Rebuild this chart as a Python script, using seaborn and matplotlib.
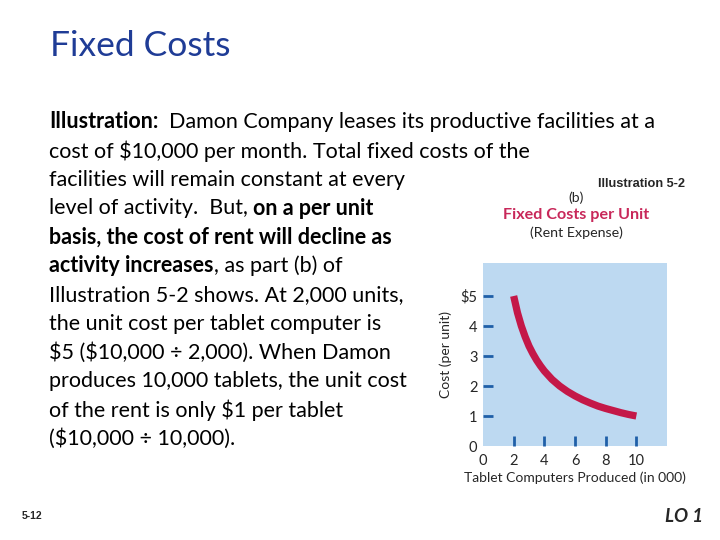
import matplotlib
matplotlib.use("Agg")
import matplotlib.pyplot as plt
import seaborn as sns
import pandas as pd

# ── Data ─────────────────────────────────────────────
units_000 = [2.0, 2.25, 2.5, 2.75, 3.0, 3.25, 3.5, 3.75, 4.0, 4.5, 5.0, 5.5,
             6.0, 6.5, 7.0, 7.5, 8.0, 8.5, 9.0, 9.5, 10.0]
cost_per_unit = [5.0, 4.44, 4.0, 3.64, 3.33, 3.08, 2.86, 2.67, 2.5, 2.22, 2.0,
                 1.82, 1.67, 1.54, 1.43, 1.33, 1.25, 1.18, 1.11, 1.05, 1.0]
x_ticks = [0, 2, 4, 6, 8, 10]
y_ticks = [0, 1, 2, 3, 4, 5]
y_tick_labels = ["0", "1", "2", "3", "4", "$5"]

body_lines = [
    [("Illustration:", True), ("  Damon Company leases its productive facilities at a", False)],
    [("cost of $10,000 per month. Total fixed costs of the", False)],
    [("facilities will remain constant at every", False)],
    [("level of activity.  But, ", False), ("on a per unit", True)],
    [("basis, the cost of rent will decline as", True)],
    [("activity increases", True), (", as part (b) of", False)],
    [("Illustration 5-2 shows. At 2,000 units,", False)],
    [("the unit cost per tablet computer is", False)],
    [("$5 ($10,000 \u00f7 2,000). When Damon", False)],
    [("produces 10,000 tablets, the unit cost", False)],
    [("of the rent is only $1 per tablet", False)],
    [("($10,000 \u00f7 10,000).", False)],
]

df = pd.DataFrame({"units": units_000, "cost": cost_per_unit})

sns.set_style("white")
plt.rcParams["font.family"] = ["Lato", "DejaVu Sans"]
plt.rcParams["text.parse_math"] = False

W, H = 720, 540
fig = plt.figure(figsize=(7.2, 5.4), dpi=100)

# ── Slide text ───────────────────────────────────────
fig.text(50 / W, 1 - 46 / H, "Fixed Costs", fontsize=25.5, color="#1F3C96",
         va="center", ha="left")

renderer = fig.canvas.get_renderer()
y0, dy = 122, 28.8
for i, segs in enumerate(body_lines):
    x = 49
    y = 1 - (y0 + i * dy) / H
    for txt, bold in segs:
        t = fig.text(x / W, y, txt, fontsize=15.5, va="center", ha="left",
                     fontweight="bold" if bold else "normal", color="black")
        x += t.get_window_extent(renderer).width

fig.text(22 / W, 1 - 516 / H, "5-12", fontsize=7.5, fontweight="bold",
         family=["Liberation Sans"], va="center", ha="left")
fig.text(703 / W, 1 - 516 / H, "LO 1", fontsize=13.5, fontweight="bold",
         style="italic", va="center", ha="right")

# ── Illustration header ──────────────────────────────
fig.text(641 / W, 1 - 184 / H, "Illustration 5-2", fontsize=9.2, fontweight="bold",
         family=["Liberation Sans"], va="center", ha="center")
fig.text(576 / W, 1 - 198 / H, "(b)", fontsize=10, va="center", ha="center")
fig.text(576 / W, 1 - 215 / H, "Fixed Costs per Unit", fontsize=11.6,
         fontweight="bold", color="#C8285A", va="center", ha="center")
fig.text(576 / W, 1 - 233 / H, "(Rent Expense)", fontsize=10.3,
         va="center", ha="center")

# ── Chart ────────────────────────────────────────────
ax = fig.add_axes([483 / W, 1 - 446 / H, (667 - 483) / W, (446 - 263) / H])
ax.set_facecolor("#BDD9F1")
sns.lineplot(data=df, x="units", y="cost", ax=ax, color="#C41848",
             linewidth=5.2, solid_capstyle="butt")
ax.set_xlim(0, 12)
ax.set_ylim(0, 6.1)
for s in ax.spines.values():
    s.set_visible(False)

ax.set_xticks(x_ticks)
ax.set_yticks(y_ticks)
ax.set_yticklabels(y_tick_labels)
ax.tick_params(axis="both", direction="in", length=7, width=2,
               color="#1F5FA8", labelsize=10.5, pad=4, bottom=True, left=True)
ax.tick_params(axis="x", pad=6)
ax.xaxis.get_major_ticks()[0].tick1line.set_visible(False)
ax.yaxis.get_major_ticks()[0].tick1line.set_visible(False)

ax.set_xlabel("Tablet Computers Produced (in 000)", fontsize=10, labelpad=2)
ax.set_ylabel("Cost (per unit)", fontsize=10, labelpad=6)

fig.savefig("out.png", dpi=100)
